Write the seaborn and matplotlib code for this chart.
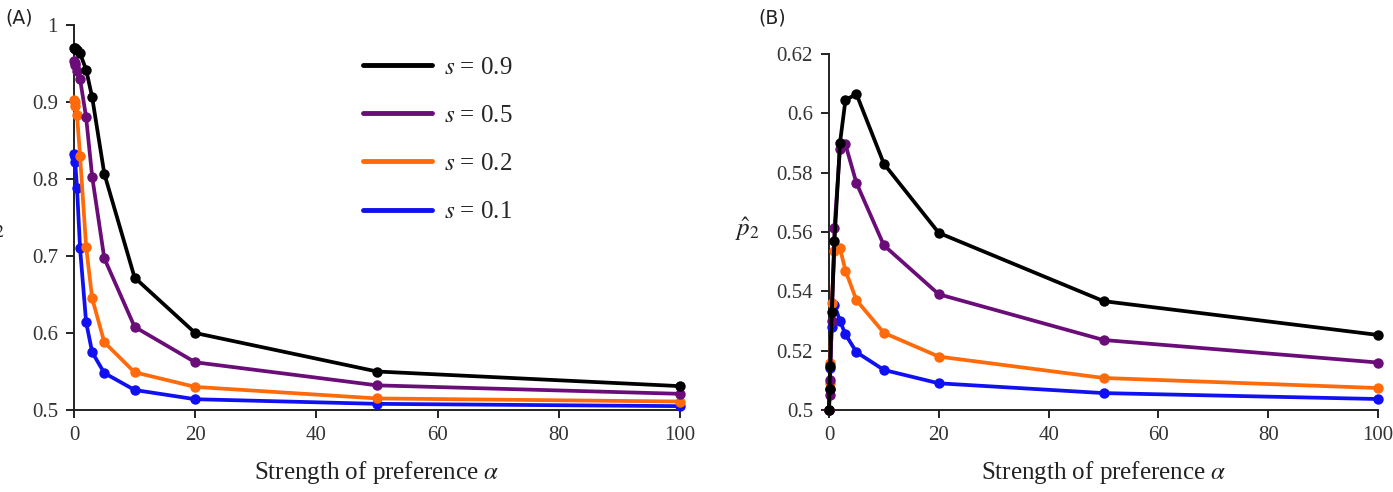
import matplotlib
matplotlib.use("Agg")
import matplotlib.pyplot as plt
from matplotlib.lines import Line2D
from matplotlib.ticker import FormatStrFormatter
import seaborn as sns
import pandas as pd

# strength of preference alpha (same grid in both panels)
alpha = [0, 0.1, 0.2, 0.5, 1, 2, 3, 5, 10, 20, 50, 100]

# panel A values per s
a_s09 = [0.970, 0.970, 0.969, 0.967, 0.963, 0.942, 0.906, 0.807, 0.672, 0.600, 0.550, 0.531]
a_s05 = [0.953, 0.951, 0.948, 0.940, 0.930, 0.880, 0.803, 0.697, 0.608, 0.562, 0.532, 0.521]
a_s02 = [0.903, 0.900, 0.895, 0.883, 0.830, 0.712, 0.645, 0.588, 0.549, 0.530, 0.515, 0.511]
a_s01 = [0.833, 0.829, 0.822, 0.788, 0.710, 0.614, 0.575, 0.548, 0.526, 0.514, 0.508, 0.505]

# panel B values per s
b_s09 = [0.500, 0.507, 0.515, 0.533, 0.557, 0.590, 0.6045, 0.6065, 0.583, 0.5597, 0.5367, 0.5253]
b_s05 = [0.500, 0.505, 0.510, 0.530, 0.5615, 0.588, 0.5895, 0.5765, 0.5555, 0.539, 0.5236, 0.516]
b_s02 = [0.500, 0.509, 0.516, 0.536, 0.5535, 0.5545, 0.547, 0.537, 0.526, 0.518, 0.5108, 0.5074]
b_s01 = [0.500, 0.507, 0.514, 0.528, 0.5355, 0.530, 0.5255, 0.5195, 0.5135, 0.509, 0.5057, 0.5037]

s_labels = ["0.9", "0.5", "0.2", "0.1"]
colors = {"0.9": "#000000", "0.5": "#6b0d78", "0.2": "#ff6a0a", "0.1": "#1010f0"}


def long_table(series):
    rows = []
    for s, vals in zip(s_labels, series):
        for a, v in zip(alpha, vals):
            rows.append({"alpha": a, "value": v, "s": s})
    return pd.DataFrame(rows)


df_a = long_table([a_s09, a_s05, a_s02, a_s01])
df_b = long_table([b_s09, b_s05, b_s02, b_s01])

sns.set_style("ticks")
plt.rcParams["font.family"] = ["Liberation Serif", "DejaVu Serif"]
plt.rcParams["mathtext.fontset"] = "stix"

fig = plt.figure(figsize=(13.93, 4.92), dpi=100)
ax_a = fig.add_axes([74 / 1393, 1 - 410 / 492, 606 / 1393, 385 / 492])
ax_b = fig.add_axes([829 / 1393, 1 - 410 / 492, 549 / 1393, 356 / 492])

for ax, df, ylim, yticks in [
    (ax_a, df_a, (0.5, 1.0), [0.5, 0.6, 0.7, 0.8, 0.9, 1.0]),
    (ax_b, df_b, (0.5, 0.62), [0.5, 0.52, 0.54, 0.56, 0.58, 0.6, 0.62]),
]:
    sns.lineplot(data=df, x="alpha", y="value", hue="s", hue_order=s_labels[::-1],
                 palette=colors, marker="o", markersize=7.5, markeredgewidth=0,
                 linewidth=2.7, legend=False, ax=ax, clip_on=False, zorder=3)
    ax.set_xlim(0, 100)
    ax.set_ylim(*ylim)
    ax.set_xticks([0, 20, 40, 60, 80, 100])
    ax.set_yticks(yticks)
    ax.yaxis.set_major_formatter(FormatStrFormatter("%g"))
    sns.despine(ax=ax)
    for sp in ["left", "bottom"]:
        ax.spines[sp].set_linewidth(1.4)
        ax.spines[sp].set_color("#222222")
    ax.tick_params(direction="out", length=5.5, width=1.4, pad=6, labelsize=15,
                   colors="#222222", labelcolor="#333333")
    ax.set_xlabel(r"Strength of preference $\alpha$", fontsize=18, color="#222222", labelpad=10)
    ax.set_ylabel(r"$\hat{p}_2$", fontsize=18, rotation=0, color="#222222")

ax_a.yaxis.set_label_coords(-0.134, 0.437)
ax_b.yaxis.set_label_coords(-0.148, 0.47)

handles = [Line2D([], [], color=colors[s], linewidth=3.5) for s in s_labels]
labels = [rf"$s$ = {s}" for s in s_labels]
fig.legend(handles, labels, loc="upper left", bbox_to_anchor=(363 / 1393, 1 - 56 / 492),
           frameon=False, fontsize=18, borderpad=0, borderaxespad=0,
           handlelength=2.75, handletextpad=0.5, labelspacing=1.03)

fig.text(5 / 1393, 1 - 18 / 492, "(A)", family="DejaVu Sans", fontsize=13.5,
         va="center", ha="left", color="#222222")
fig.text(758 / 1393, 1 - 18 / 492, "(B)", family="DejaVu Sans", fontsize=13.5,
         va="center", ha="left", color="#222222")

fig.savefig("out.png", dpi=100)
